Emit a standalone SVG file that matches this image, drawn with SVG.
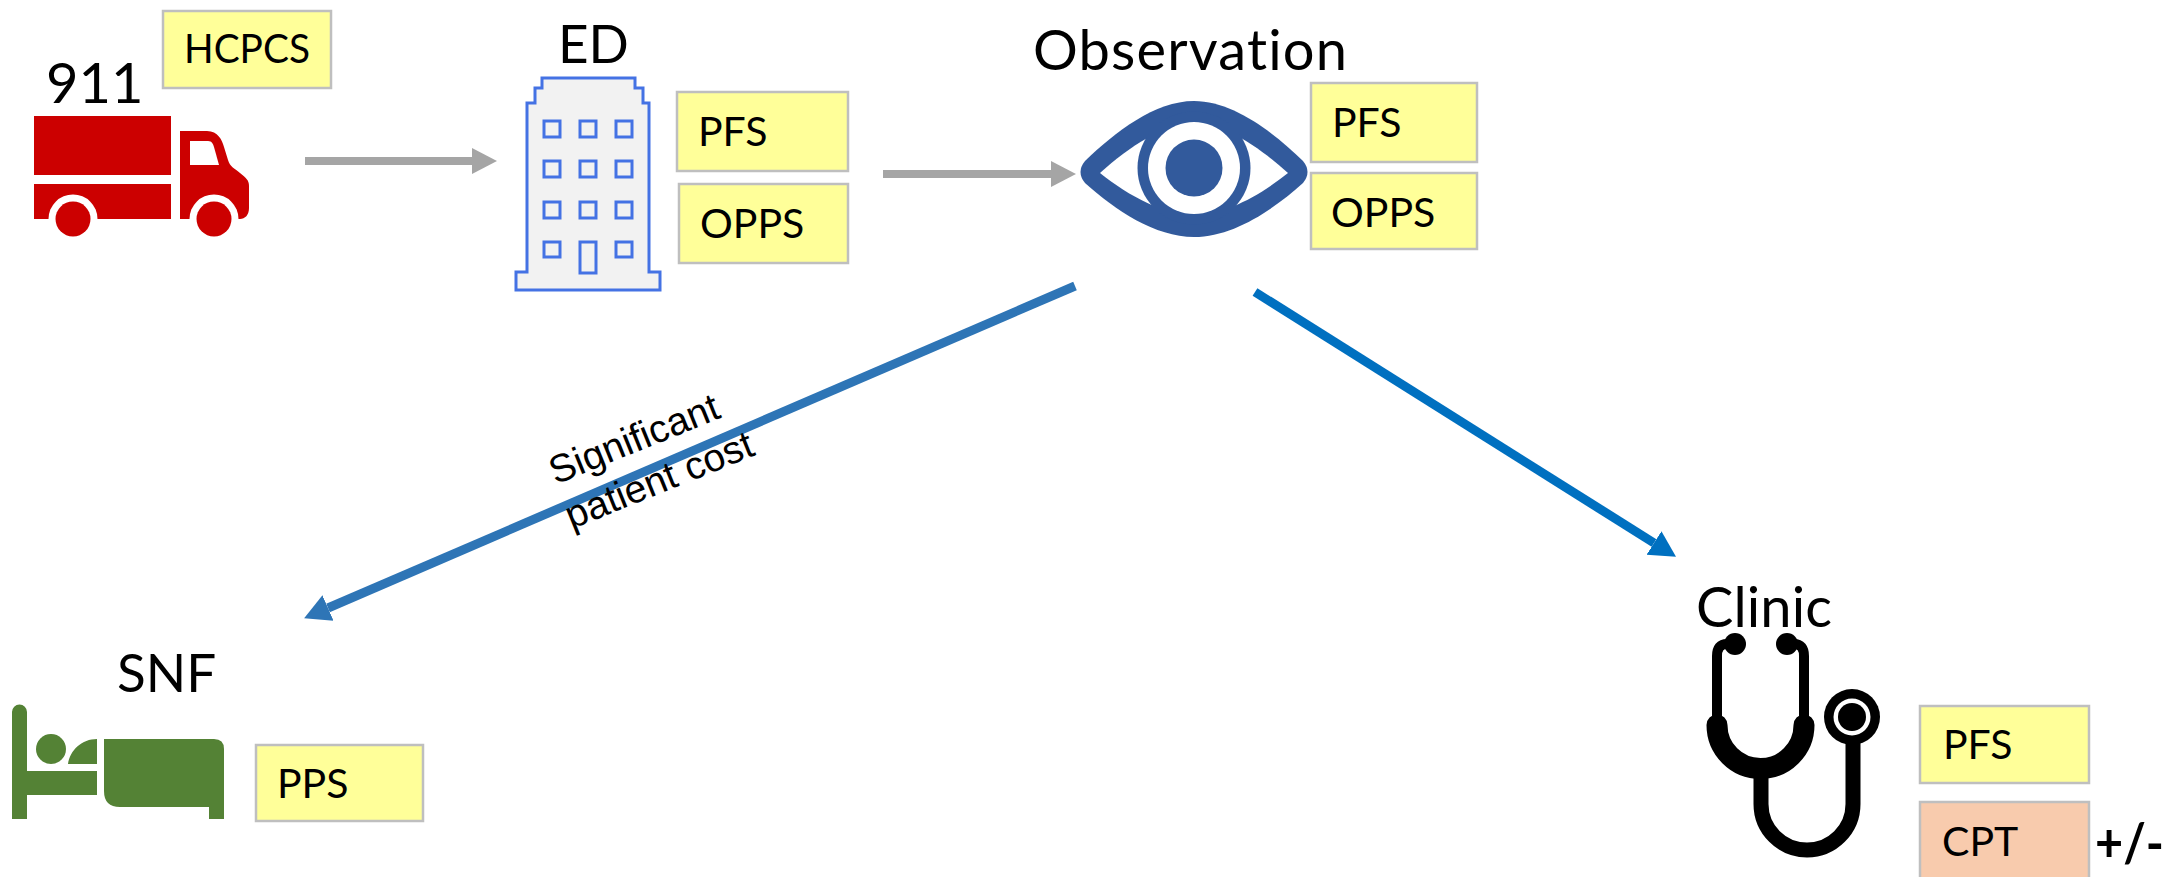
<svg xmlns="http://www.w3.org/2000/svg" width="2167" height="877" viewBox="0 0 2167 877">
<style>
.box{fill:#ffff99;stroke:#bfbfbf;stroke-width:2.500}
.t{font-family:Lato,"Noto Sans",sans-serif;fill:#000;font-variant-ligatures:none}
.lg{font-size:56px}
.cap{font-size:53px}
.md{font-size:41px}
.note{font-family:"Liberation Sans",Arial,sans-serif;font-size:39px;fill:#000;text-anchor:middle}
.win{fill:none;stroke:#4472e4;stroke-width:3}
</style>
<defs>
<marker id="gh" markerUnits="userSpaceOnUse" markerWidth="26" markerHeight="26" refX="0" refY="13" orient="auto"><path d="M0 0L25 13L0 26Z" fill="#a5a5a5"/></marker>
<marker id="b1" markerUnits="userSpaceOnUse" markerWidth="28" markerHeight="30" refX="0" refY="15" orient="auto"><path d="M0 1L26 15L0 29Z" fill="#2e75b6"/></marker>
<marker id="b2" markerUnits="userSpaceOnUse" markerWidth="28" markerHeight="30" refX="0" refY="15" orient="auto"><path d="M0 1L26 15L0 29Z" fill="#0070c0"/></marker>
</defs>
<rect width="2167" height="877" fill="#fff"/>
<g id="connectors" fill="none">
<path d="M305 161H472" stroke="#a5a5a5" stroke-width="8" marker-end="url(#gh)"/>
<path d="M883 174H1051" stroke="#a5a5a5" stroke-width="8" marker-end="url(#gh)"/>
<path d="M1075 286L328 608" stroke="#2e75b6" stroke-width="9" marker-end="url(#b1)"/>
<path d="M1255 292L1654 543" stroke="#0070c0" stroke-width="9" marker-end="url(#b2)"/>
</g>
<g id="note">
<text class="note" transform="translate(639 451) rotate(-22)">Significant</text>
<text class="note" transform="translate(664 492) rotate(-22)">patient cost</text>
</g>
<g id="node-911">
<path fill="#c00" d="M34 116H171V175H34ZM34 184H171V219H34ZM180 131H207C218 131 222 140 224 147L228 160C230 167 234 168 240 173C246 178 249 180 249 186V208C249 215 245 219 240 219H180Z"/>
<path fill="#fff" d="M190 141H208C212 141 213 144 214 147L219 165H190Z"/>
<circle cx="73" cy="219" r="24.500" fill="#fff"/><circle cx="214" cy="219" r="24.500" fill="#fff"/>
<circle cx="73" cy="219" r="17.500" fill="#c00"/><circle cx="214" cy="219" r="17.500" fill="#c00"/>
<text class="t lg" x="46" y="103">911</text>
<rect class="box" x="163" y="11" width="168" height="77"/>
<text class="t md" x="184" y="63" textLength="126" lengthAdjust="spacingAndGlyphs">HCPCS</text>
</g>
<g id="node-ed">
<path fill="#f2f2f2" stroke="#4472e4" stroke-width="3" d="M542 78H635V88H643V103H649V272H660V290H516V272H527V103H535V88H542Z"/>
<rect class="win" x="544" y="121" width="16" height="16"/><rect class="win" x="580" y="121" width="16" height="16"/><rect class="win" x="616" y="121" width="16" height="16"/>
<rect class="win" x="544" y="161" width="16" height="16"/><rect class="win" x="580" y="161" width="16" height="16"/><rect class="win" x="616" y="161" width="16" height="16"/>
<rect class="win" x="544" y="202" width="16" height="16"/><rect class="win" x="580" y="202" width="16" height="16"/><rect class="win" x="616" y="202" width="16" height="16"/>
<rect class="win" x="544" y="242" width="16" height="15"/><rect class="win" x="580" y="242" width="16" height="31"/><rect class="win" x="616" y="242" width="16" height="15"/>
<text class="t cap" x="558" y="63">ED</text>
<rect class="box" x="677" y="92" width="171" height="79"/>
<text class="t md" x="698" y="146">PFS</text>
<rect class="box" x="679" y="184" width="169" height="79"/>
<text class="t md" x="700" y="238">OPPS</text>
</g>
<g id="node-observation">
<path fill="#325a9c" d="M1085 161C1115 132 1155 101 1194 101C1233 101 1273 132 1303 161Q1312 172 1303 183C1273 210 1233 237 1194 237C1155 237 1115 210 1085 183Q1076 172 1085 161Z"/>
<path fill="#fff" d="M1100 173C1130 146 1165 123 1194 123C1223 123 1258 146 1288 173C1258 197 1223 215 1194 215C1165 215 1130 197 1100 173Z"/>
<circle cx="1194" cy="168" r="56.500" fill="#325a9c"/>
<circle cx="1194" cy="168" r="46" fill="#fff"/>
<circle cx="1194" cy="168" r="28.500" fill="#325a9c"/>
<text class="t lg" x="1033" y="70" textLength="314">Observation</text>
<rect class="box" x="1311" y="83" width="166" height="79"/>
<text class="t md" x="1332" y="137">PFS</text>
<rect class="box" x="1311" y="173" width="166" height="76"/>
<text class="t md" x="1331" y="227">OPPS</text>
</g>
<g id="node-snf">
<path fill="#548235" d="M12 712a7.500 7.500 0 0 1 15 0V771H97V795H27V819H12ZM68 764C70 750 82 739 97 739V764ZM104 739H214Q224 739 224 749V819H209V807H120Q104 807 104 791Z"/>
<circle cx="51" cy="749" r="15" fill="#548235"/>
<text class="t cap" x="117" y="692">SNF</text>
<rect class="box" x="256" y="745" width="167" height="76"/>
<text class="t md" x="277" y="798">PPS</text>
</g>
<g id="node-clinic">
<g fill="none" stroke="#000">
<path stroke-width="10" d="M1735 644H1727Q1717 644 1717 656V725M1787 644H1794Q1804 644 1804 656V725"/>
<path stroke-width="21" stroke-linecap="round" d="M1717 725A43.500 43.500 0 0 0 1804 725"/>
<path stroke-width="15" d="M1761 770V804A46 46 0 0 0 1853 804V735"/>
</g>
<circle cx="1735" cy="644" r="11"/><circle cx="1787" cy="644" r="11"/>
<circle cx="1852" cy="717" r="28"/><circle cx="1852" cy="717" r="18.500" fill="#fff"/><circle cx="1852" cy="717" r="14"/>
<text class="t lg" x="1696" y="627" textLength="136">Clinic</text>
<rect class="box" x="1920" y="706" width="169" height="77"/>
<text class="t md" x="1943" y="759">PFS</text>
<rect class="box" x="1920" y="802" width="169" height="80" style="fill:#f8cbad"/>
<text class="t md" x="1942" y="856">CPT</text>
<text class="t cap" x="2095" y="862" textLength="69" lengthAdjust="spacingAndGlyphs" style="font-weight:700">+/-</text>
</g>
</svg>
